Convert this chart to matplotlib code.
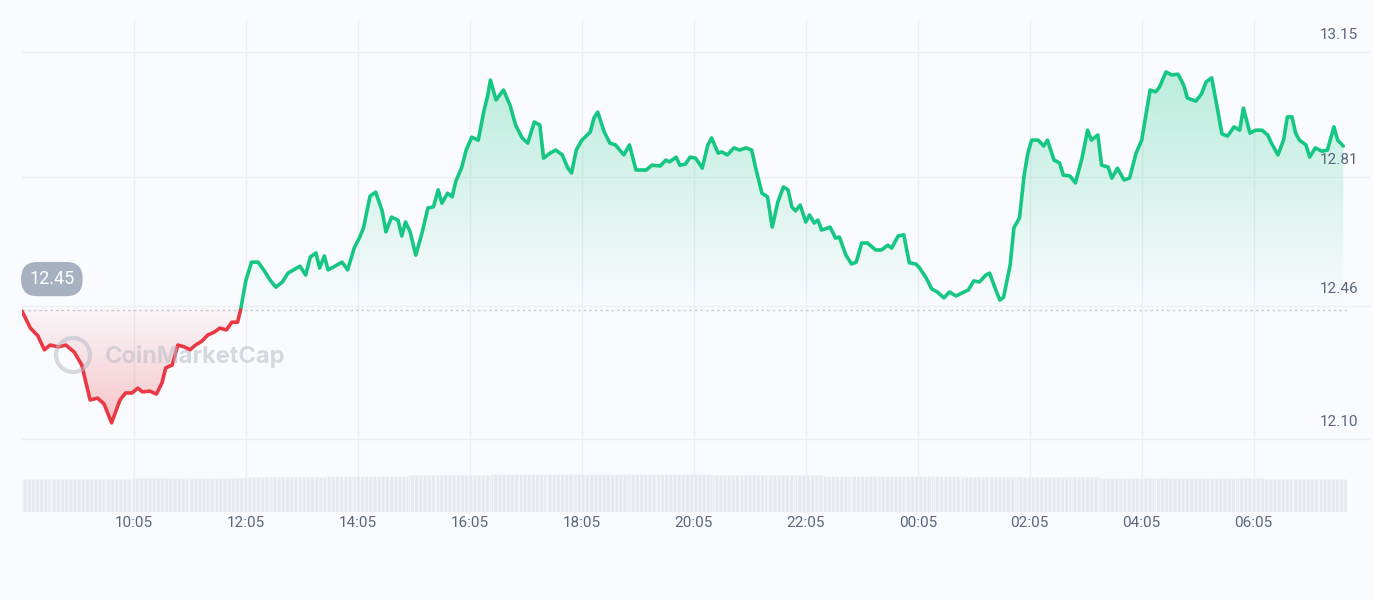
import numpy as np
import matplotlib
matplotlib.use("Agg")
import matplotlib.pyplot as plt
from matplotlib.patches import Polygon, Circle

# minutes since 08:04
minutes = [1,10,18,25,31,40,48,57,65,74,82,89,97,106,112,119,125,130,138,145,151,155,162,168,175,181,187,194,200,207,213,220,226,232,235,
241,247,254,260,267,273,280,286,292,299,305,310,316,320,325,329,335,344,350,357,363,367,374,380,387,391,397,404,408,412,417,423,430,436,442,447,451,457,462,466,
472,477,483,490,496,500,503,509,517,524,530,537,543,550,556,560,567,573,580,586,590,595,601,610,614,618,625,631,637,646,652,659,670,676,685,691,695,702,706,712,717,723,
730,736,740,747,751,757,764,770,777,783,787,794,800,805,811,817,822,826,830,835,841,845,850,854,858,867,873,877,884,890,895,901,907,916,922,929,933,940,946,952,959,963,
970,976,982,989,995,1002,1008,1015,1021,1027,1034,1038,1045,1049,1053,1060,1064,1070,1075,1079,1083,1090,1096,1100,1107,1113,1117,1124,1130,1137,1143,1147,1154,1158,
1165,1169,1175,1182,1188,1195,1201,1205,1210,1216,1220,1227,1233,1240,1246,1250,1259,1265,1270,1276,1282,1287,1293,1300,1306,1310,1317,1323,1330,1336,1340,1347,1353,
1357,1362,1366,1370,1377,1381,1387,1394,1400,1407,1411,1417]
prices = [12.447,12.401,12.380,12.342,12.355,12.350,12.355,12.336,12.301,12.206,12.211,12.195,12.144,12.206,12.225,12.225,12.238,12.228,12.230,12.222,12.252,12.293,12.301,12.355,12.350,12.342,12.355,12.366,12.382,12.390,12.401,12.396,12.417,12.417,12.447,
12.531,12.580,12.580,12.559,12.531,12.512,12.526,12.550,12.559,12.569,12.545,12.594,12.605,12.564,12.597,12.559,12.567,12.580,12.559,12.618,12.648,12.673,12.759,12.770,12.719,12.662,12.702,12.694,12.651,12.689,12.662,12.599,12.662,12.727,12.730,12.776,12.740,12.767,12.757,12.800,
12.835,12.884,12.919,12.911,12.990,13.031,13.074,13.020,13.047,13.006,12.952,12.917,12.903,12.960,12.952,12.862,12.876,12.884,12.871,12.835,12.822,12.884,12.911,12.933,12.971,12.987,12.933,12.903,12.898,12.871,12.898,12.830,12.830,12.843,12.841,12.857,12.852,12.865,12.843,12.846,12.865,12.862,
12.835,12.898,12.917,12.876,12.879,12.871,12.890,12.884,12.890,12.884,12.838,12.767,12.757,12.675,12.743,12.784,12.776,12.730,12.719,12.735,12.689,12.708,12.686,12.694,12.667,12.675,12.645,12.648,12.599,12.575,12.580,12.632,12.632,12.613,12.613,12.626,12.618,12.651,12.654,12.578,12.575,
12.564,12.537,12.507,12.499,12.483,12.499,12.488,12.496,12.504,12.529,12.526,12.545,12.550,12.502,12.477,12.485,12.572,12.673,12.700,12.816,12.876,12.911,12.911,12.895,12.911,12.857,12.849,12.816,12.814,12.795,12.862,12.938,12.911,12.925,
12.843,12.838,12.808,12.835,12.803,12.808,12.876,12.911,12.971,13.047,13.042,13.055,13.096,13.088,13.090,13.060,13.025,13.017,13.036,13.069,13.080,12.998,12.928,12.922,12.947,12.938,12.998,12.930,12.938,12.938,12.925,12.903,12.871,12.911,12.974,
12.974,12.930,12.911,12.898,12.865,12.890,12.881,12.884,12.947,12.911,12.895]
baseline = 12.45
price_ticks = [12.10, 12.46, 12.81, 13.15]
time_ticks = [121, 241, 361, 481, 601, 721, 841, 961, 1081, 1201, 1321]
time_labels = ["10:05","12:05","14:05","16:05","18:05","20:05","22:05","00:05","02:05","04:05","06:05"]
volume = [33,33,33,33,34,34,34,34,35,35,35,36,36,36,37,37,37,38,38,38,38,38,38,38,38,37,37,37,37,36,36,36,36,36,35,35,35,35,35,34,34,34,34,34,34,33,33,33]

BG = "#fafbfe"
GREEN = "#16c784"
RED = "#ea3943"
fig = plt.figure(figsize=(13.74, 6), dpi=100, facecolor=BG)
ax = fig.add_axes([22/1374, 88/600, 1325/1374, 492/600])
ax.set_facecolor("none")
xmax = 1421
ax.set_xlim(1, xmax)
ax.set_ylim(11.902, 13.237)
for s in ax.spines.values():
    s.set_visible(False)
ax.set_yticks([]); ax.set_xticks([])

# grid
for p in price_ticks:
    ax.plot([1, xmax + 24], [p, p], color="#eceef3", lw=1, zorder=0, clip_on=False)
    ax.text(xmax + 12, p + 0.028, f"{p:.2f}", ha="right", va="bottom", fontsize=11, color="#58667e", family="Roboto")
for t, lab in zip(time_ticks, time_labels):
    ax.axvline(t, color="#eceef3", lw=1, zorder=0)
    ax.text(t, 11.902 - 0.012, lab, ha="center", va="top", fontsize=11, color="#58667e", family="Roboto")
ax.axhline(baseline, color="#c8ccd4", lw=1, ls=(0, (2, 2)), zorder=1)

# split at baseline
x = np.array(minutes, float); y = np.array(prices, float)
xs, ys = [x[0]], [y[0]]
for i in range(1, len(x)):
    if (y[i-1] - baseline) * (y[i] - baseline) < 0:
        f = (baseline - y[i-1]) / (y[i] - y[i-1])
        xs.append(x[i-1] + f * (x[i] - x[i-1])); ys.append(baseline)
    xs.append(x[i]); ys.append(y[i])
xs = np.array(xs); ys = np.array(ys)
up = np.where(ys >= baseline, ys, np.nan)
dn = np.where(ys <= baseline, ys, np.nan)

def grad_fill(yv, color, top, bot, a_top, a_bot):
    yb = np.clip(yv, min(top, bot), max(top, bot))
    mask = ~np.isnan(yv)
    verts = np.column_stack([np.r_[xs[mask], xs[mask][::-1]], np.r_[yv[mask], np.full(mask.sum(), baseline)]])
    poly = Polygon(verts, closed=True, facecolor="none", edgecolor="none")
    ax.add_patch(poly)
    rgb = matplotlib.colors.to_rgb(color)
    g = np.zeros((256, 1, 4)); g[..., :3] = rgb
    g[:, 0, 3] = np.linspace(a_top, a_bot, 256)
    im = ax.imshow(g, extent=[1, xmax, min(top, bot), max(top, bot)], origin="upper", aspect="auto", zorder=1)
    im.set_clip_path(poly)

grad_fill(up, GREEN, 13.10, baseline, 0.28, 0.0)
grad_fill(dn, RED, baseline, 12.14, 0.03, 0.28)
ax.plot(xs, up, color=GREEN, lw=2.6, zorder=3, solid_capstyle="round")
ax.plot(xs, dn, color=RED, lw=2.6, zorder=3, solid_capstyle="round")
ax.set_xlim(1, xmax); ax.set_ylim(11.902, 13.237)

# badge
ax.text(33, 12.534, "12.45", ha="center", va="center", fontsize=13, color="white", family="Roboto",
        bbox=dict(boxstyle="round,pad=0.45,rounding_size=0.9", fc="#a7b1c2", ec="none"), zorder=5)

# watermark
fig.text(105/1374, 1 - 357/600, "CoinMarketCap", fontsize=17, color="#b8bcc6", alpha=0.55, va="center", family="Inter", weight="bold")
fig.patches.append(Circle((73/1374 * 13.74 * 100, (1 - 355/600) * 600), 17, transform=None, fill=False, ec="#b8bcc6", lw=3, alpha=0.55))

# volume
vax = fig.add_axes([22/1374, 88/600, 1325/1374, 40/600])
vax.set_facecolor("none")
vax.bar(np.arange(len(volume)), volume, width=1.0, color="#e7e9ee", edgecolor="#f4f5f8", lw=0.6, hatch="||||")
vax.set_xlim(-0.5, len(volume) - 0.5); vax.set_ylim(0, 40)
vax.axis("off")

fig.savefig("out.png", dpi=100, facecolor=BG)
